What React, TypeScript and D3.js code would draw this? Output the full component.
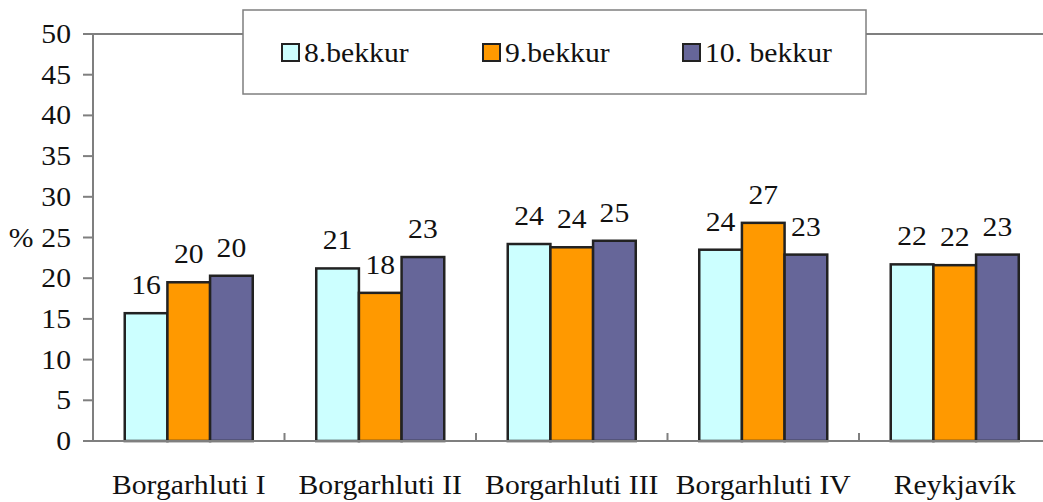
import React from "react";
import * as d3 from "d3";

const categories = ["Borgarhluti I", "Borgarhluti II", "Borgarhluti III", "Borgarhluti IV", "Reykjavík"];
const seriesNames = ["8.bekkur", "9.bekkur", "10. bekkur"];
const grade8 = [15.7, 21.2, 24.2, 23.5, 21.7];
const grade9 = [19.5, 18.2, 23.8, 26.8, 21.6];
const grade10 = [20.3, 22.6, 24.6, 22.9, 22.9];
const seriesColors = ["#CCFFFF", "#FF9900", "#666699"];
const yTicks = [0, 5, 10, 15, 20, 25, 30, 35, 40, 45, 50];

const W = 1043;
const H = 502;
const FONT = "Liberation Serif";
const SX = 1.12;

function T(props: { x: number; y: number; anchor?: "start" | "middle" | "end"; size?: number; children: React.ReactNode }) {
  const { x, y, anchor = "start", size = 26.5, children } = props;
  return (
    <text
      transform={`translate(${x},${y}) scale(${SX},1)`}
      textAnchor={anchor}
      fontSize={size}
      fill="#111"
      fontFamily={FONT}
      style={{ fontFamily: FONT }}
    >
      {children}
    </text>
  );
}

export default function App() {
  const series = [grade8, grade9, grade10];
  const left = 93;
  const top = 34;
  const bottom = 441;
  const step = 191.5;
  const x0 = d3.scaleBand<string>().domain(categories).range([left, left + step * categories.length]).padding(0);
  const x1 = d3
    .scaleBand<string>()
    .domain(seriesNames)
    .range([0, x0.bandwidth()])
    .paddingInner(0)
    .paddingOuter(0.744);
  const y = d3.scaleLinear().domain([0, 50]).range([bottom, top]);
  const axisColor = "#7f7f7f";

  return (
    <svg
      width={W}
      height={H}
      style={{ position: "absolute", left: 0, top: 0, display: "block", background: "#fff", fontFamily: FONT }}
    >
      <line x1={left} x2={W} y1={y(50)} y2={y(50)} stroke={axisColor} strokeWidth={2} />
      {categories.map((c, ci) => (
        <g key={c}>
          {series.map((s, si) => {
            const v = s[ci];
            const bx = x0(c)! + x1(seriesNames[si])!;
            return (
              <rect
                key={si}
                x={bx}
                y={y(v)}
                width={x1.bandwidth()}
                height={y(0) - y(v)}
                fill={seriesColors[si]}
                stroke="#222"
                strokeWidth={2.5}
              />
            );
          })}
          {series.map((s, si) => {
            const v = s[ci];
            const bx = x0(c)! + x1(seriesNames[si])! + x1.bandwidth() / 2;
            return (
              <T key={"l" + si} x={bx} y={y(v) - 19} anchor="middle">
                {Math.round(v)}
              </T>
            );
          })}
        </g>
      ))}
      <line x1={left} x2={left} y1={y(0)} y2={y(50)} stroke={axisColor} strokeWidth={2} />
      {yTicks.map((t) => (
        <g key={t}>
          <line x1={left - 10} x2={left} y1={y(t)} y2={y(t)} stroke={axisColor} strokeWidth={2} />
          <T x={left - 22} y={y(t) + 9} anchor="end">
            {t}
          </T>
        </g>
      ))}
      <T x={21} y={y(25) + 9} anchor="middle">
        %
      </T>
      <line x1={left} x2={W} y1={y(0)} y2={y(0)} stroke={axisColor} strokeWidth={2} />
      {categories.map((c, i) =>
        i > 0 ? (
          <line key={"t" + c} x1={x0(c)} x2={x0(c)} y1={y(0)} y2={y(0) - 8} stroke={axisColor} strokeWidth={2} />
        ) : null
      )}
      {categories.map((c) => (
        <T key={"c" + c} x={x0(c)! + x0.bandwidth() / 2} y={494} anchor="middle">
          {c}
        </T>
      ))}
      <rect x={243} y={10} width={623} height={84} fill="#fff" stroke={axisColor} strokeWidth={1.5} />
      {seriesNames.map((s, i) => {
        const lx = [282, 483, 683][i];
        return (
          <g key={s}>
            <rect x={lx} y={44} width={17} height={17} fill={seriesColors[i]} stroke="#222" strokeWidth={2} />
            <T x={lx + 22} y={62}>
              {s}
            </T>
          </g>
        );
      })}
    </svg>
  );
}
